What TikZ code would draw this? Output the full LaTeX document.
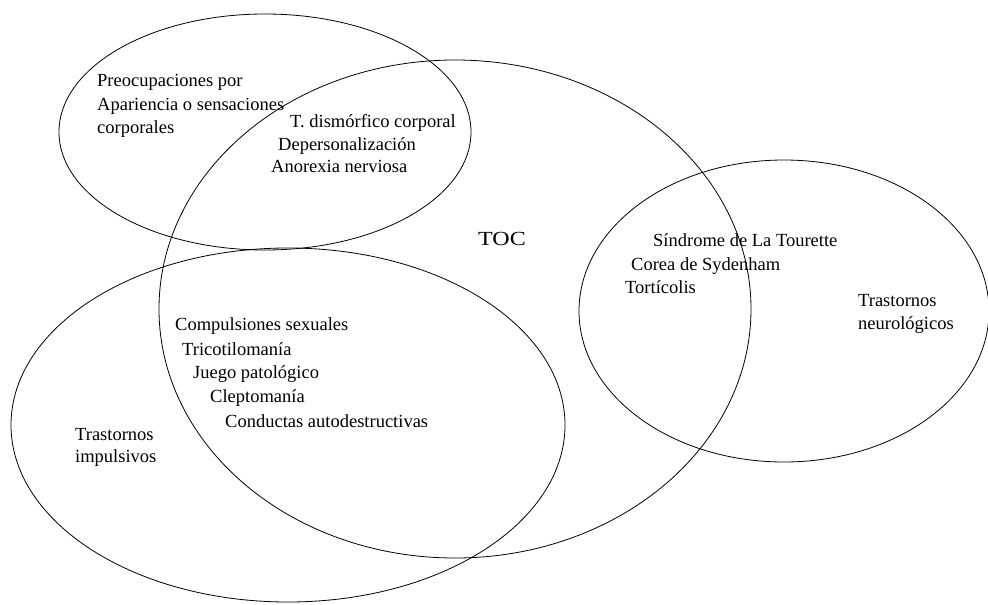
\documentclass[tikz,border=0pt]{standalone}
\usepackage{fontspec}
\setmainfont{Liberation Serif}
\begin{document}
\begin{tikzpicture}[x=1pt,y=-1pt,
  setline/.style={draw=black, line width=0.8pt},
  lbl/.style={anchor=base west, inner sep=0pt, font=\fontsize{18.5}{22}\selectfont},
  toclbl/.style={anchor=base west, inner sep=0pt, font=\fontsize{20}{24}\selectfont},
]
\useasboundingbox (0,0) rectangle (988,605);

% the four overlapping sets
\draw[setline] (265,132) ellipse [x radius=206pt, y radius=118pt];   % appearance / body sensations
\draw[setline] (455,309) ellipse [x radius=296pt, y radius=249pt];   % TOC
\draw[setline] (288,425) ellipse [x radius=277pt, y radius=177pt];   % impulsive disorders
\draw[setline] (784,311) ellipse [x radius=205pt, y radius=151pt];   % neurological disorders

% appearance set
\node[lbl] (pre1) at (97,86)  {Preocupaciones por};
\node[lbl] (pre2) at (97,110) {Apariencia o sensaciones};
\node[lbl] (pre3) at (97,133) {corporales};
\node[lbl] (dis)  at (290,127) {T. dismórfico corporal};
\node[lbl] (dep)  at (278,150) {Depersonalización};
\node[lbl] (ano)  at (271,172) {Anorexia nerviosa};

% TOC, set slightly wide
\node[toclbl] (toc) at (478,245) {\scalebox{1.2}[1]{TOC}};

% neurological set
\node[lbl] (sin)  at (653,246) {Síndrome de La Tourette};
\node[lbl] (cor)  at (631,270) {Corea de Sydenham};
\node[lbl] (tor)  at (625,293) {Tortícolis};
\node[lbl] (neu1) at (858,306) {Trastornos};
\node[lbl] (neu2) at (858,329) {neurológicos};

% impulsive set
\node[lbl] (com)  at (175,330) {Compulsiones sexuales};
\node[lbl] (tri)  at (182,355) {Tricotilomanía};
\node[lbl] (jue)  at (193,378) {Juego patológico};
\node[lbl] (cle)  at (210,402) {Cleptomanía};
\node[lbl] (con)  at (225,427) {Conductas autodestructivas};
\node[lbl] (imp1) at (75,440) {Trastornos};
\node[lbl] (imp2) at (75,462) {impulsivos};
\end{tikzpicture}
\end{document}
